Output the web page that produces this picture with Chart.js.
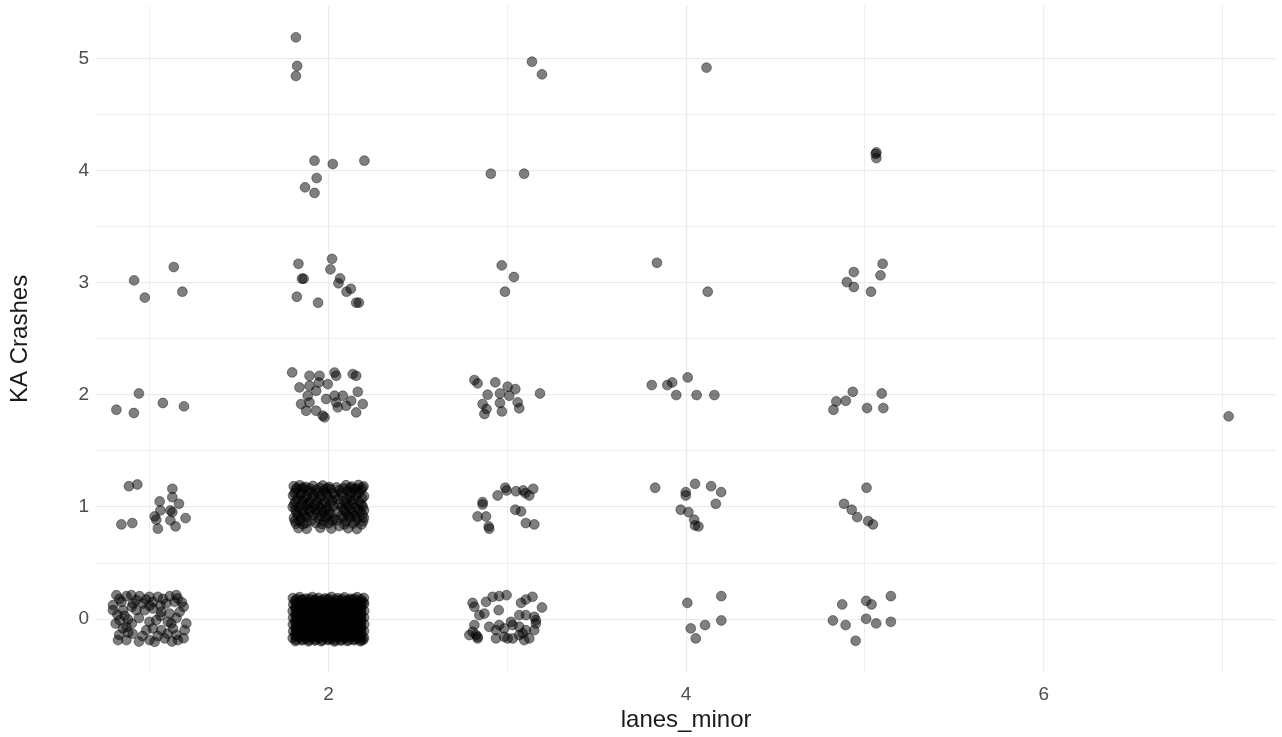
<!DOCTYPE html>
<html><head><meta charset="utf-8">
<script src="https://cdn.jsdelivr.net/npm/chart.js@4.4.1/dist/chart.umd.min.js"></script>
<style>html,body{margin:0;padding:0;background:#fff;}#wrap{width:1282px;height:737px;}</style>
</head><body><div id="wrap"><canvas id="c" width="1282" height="737"></canvas></div>
<script>
// Axis ticks and labels
const xTickValues = [1, 2, 3, 4, 5, 6, 7];
const xTickLabels = ['', '2', '', '4', '', '6', ''];
const yTickValues = [0, 0.5, 1, 1.5, 2, 2.5, 3, 3.5, 4, 4.5, 5];
const yTickLabels = ['0', '', '1', '', '2', '', '3', '', '4', '', '5'];
const xTitle = 'lanes_minor';
const yTitle = 'KA Crashes';

// Jittered points [lanes_minor, KA crashes]
const lanes1_ka0 = [[0.814,0.214],[0.870,0.205],[0.898,0.214],[0.944,0.205],[0.999,0.199],[1.046,0.199],[1.112,0.205],[1.149,0.214],[1.158,0.184],
 [0.795,0.125],[0.842,0.154],[0.907,0.139],[0.963,0.139],[1.018,0.154],[1.093,0.139],[1.140,0.154],
 [0.795,0.080],[0.851,0.080],[0.926,0.080],[0.972,0.080],[1.018,0.095],[1.065,0.065],[1.112,0.050],[1.168,0.065],
 [0.832,-0.009],[0.879,-0.003],[0.999,-0.024],[1.037,-0.009],[1.102,-0.024],[1.121,-0.039],[1.205,-0.039],
 [0.851,-0.083],[0.870,-0.068],[0.981,-0.098],[1.018,-0.083],[1.065,-0.098],[1.130,-0.083],[1.196,-0.098],
 [0.823,-0.187],[0.870,-0.187],[0.999,-0.187],[1.028,-0.202],[1.084,-0.172],[1.158,-0.187],
 [0.860,0.030],[0.940,0.010],[0.905,-0.130],[0.960,-0.150],[1.060,0.030],[1.150,-0.140],
 [0.830,0.180],[0.925,0.170],[0.980,0.175],[1.075,0.180],[1.180,0.150],[0.820,0.040],[0.900,0.110],[1.000,0.120],[1.060,0.120],[1.190,0.110],
 [0.810,-0.040],[0.900,-0.040],[1.150,0.010],[0.830,-0.140],[0.880,-0.120],[1.045,-0.150],[1.100,-0.130],[1.190,-0.170],[0.940,-0.200],[1.125,-0.200]];
const lanes1_ka1 = [[0.884,1.186],[0.931,1.201],[0.842,0.845],[0.903,0.857],[1.127,1.163],[1.127,1.088],[1.164,1.029],[1.056,1.050],[1.060,0.970],[1.116,0.970],[1.127,0.955],[1.028,0.916],[1.037,0.887],[1.046,0.807],[1.116,0.881],[1.145,0.827],[1.201,0.901]];
const lanes1_ka2 = [[0.814,1.868],[0.912,1.839],[0.940,2.013],[1.074,1.928],[1.192,1.898]];
const lanes1_ka3 = [[0.913,3.022],[0.973,2.868],[1.135,3.141],[1.183,2.921]];

const lanes2_ka0 = [
 [1.801,0.188],[1.838,0.196],[1.872,0.183],[1.909,0.197],[1.944,0.190],[1.981,0.185],[2.017,0.198],[2.052,0.187],[2.089,0.194],[2.124,0.182],[2.161,0.196],[2.198,0.189],
 [1.812,0.162],[1.849,0.171],[1.886,0.158],[1.921,0.167],[1.957,0.160],[1.993,0.173],[2.031,0.155],[2.066,0.166],[2.103,0.159],[2.139,0.170],[2.176,0.161],[2.196,0.152],
 [1.803,0.131],[1.840,0.138],[1.877,0.126],[1.913,0.135],[1.949,0.129],[1.986,0.141],[2.022,0.124],[2.058,0.136],[2.094,0.130],[2.131,0.139],[2.167,0.127],[2.199,0.134],
 [1.815,0.101],[1.851,0.108],[1.888,0.096],[1.924,0.104],[1.960,0.099],[1.997,0.111],[2.033,0.094],[2.069,0.106],[2.106,0.100],[2.142,0.109],[2.179,0.097],
 [1.800,0.072],[1.836,0.079],[1.873,0.066],[1.910,0.075],[1.946,0.069],[1.982,0.081],[2.019,0.064],[2.055,0.077],[2.091,0.070],[2.128,0.078],[2.164,0.067],[2.200,0.074],
 [1.817,0.041],[1.853,0.049],[1.890,0.036],[1.926,0.045],[1.962,0.039],[1.999,0.051],[2.035,0.034],[2.071,0.047],[2.108,0.040],[2.144,0.048],[2.181,0.037],
 [1.802,0.012],[1.839,0.019],[1.875,0.006],[1.912,0.015],[1.948,0.009],[1.985,0.021],[2.021,0.004],[2.057,0.017],[2.093,0.010],[2.130,0.018],[2.166,0.007],[2.199,0.014],
 [1.814,-0.019],[1.850,-0.011],[1.887,-0.024],[1.923,-0.015],[1.959,-0.021],[1.996,-0.009],[2.032,-0.026],[2.068,-0.013],[2.105,-0.020],[2.141,-0.012],[2.178,-0.023],
 [1.801,-0.048],[1.837,-0.041],[1.874,-0.054],[1.911,-0.045],[1.947,-0.051],[1.983,-0.039],[2.020,-0.056],[2.056,-0.043],[2.092,-0.050],[2.129,-0.042],[2.165,-0.053],[2.200,-0.046],
 [1.816,-0.079],[1.852,-0.071],[1.889,-0.084],[1.925,-0.075],[1.961,-0.081],[1.998,-0.069],[2.034,-0.086],[2.070,-0.073],[2.107,-0.080],[2.143,-0.072],[2.180,-0.083],
 [1.803,-0.108],[1.838,-0.101],[1.876,-0.114],[1.912,-0.105],[1.948,-0.111],[1.985,-0.099],[2.021,-0.116],[2.057,-0.103],[2.094,-0.110],[2.130,-0.102],[2.167,-0.113],[2.199,-0.106],
 [1.813,-0.139],[1.850,-0.131],[1.886,-0.144],[1.922,-0.135],[1.958,-0.141],[1.995,-0.129],[2.031,-0.146],[2.067,-0.133],[2.104,-0.140],[2.140,-0.132],[2.177,-0.143],
 [1.800,-0.168],[1.836,-0.161],[1.873,-0.174],[1.909,-0.165],[1.945,-0.171],[1.982,-0.159],[2.018,-0.176],[2.054,-0.163],[2.091,-0.170],[2.127,-0.162],[2.164,-0.173],[2.198,-0.166],
 [1.815,-0.196],[1.851,-0.189],[1.888,-0.198],[1.924,-0.191],[1.960,-0.197],[1.997,-0.186],[2.033,-0.199],[2.069,-0.192],[2.106,-0.195],[2.142,-0.188],[2.179,-0.197],[2.195,-0.184],
 [1.822,0.178],[1.857,0.174],[1.893,0.181],[1.929,0.176],[1.966,0.172],[2.001,0.180],[2.038,0.175],[2.073,0.179],[2.110,0.173],[2.146,0.182],[2.183,0.176],
 [1.819,0.146],[1.855,0.150],[1.891,0.143],[1.927,0.149],[1.963,0.145],[2.000,0.152],[2.036,0.141],[2.072,0.148],[2.109,0.144],[2.145,0.151],[2.181,0.142],
 [1.821,0.116],[1.858,0.121],[1.894,0.113],[1.930,0.119],[1.966,0.114],[2.003,0.122],[2.039,0.111],[2.075,0.118],[2.112,0.115],[2.148,0.120],[2.184,0.112],
 [1.818,0.086],[1.854,0.091],[1.890,0.083],[1.926,0.089],[1.963,0.084],[1.999,0.092],[2.035,0.081],[2.072,0.088],[2.108,0.085],[2.144,0.090],[2.181,0.082],
 [1.820,0.056],[1.857,0.061],[1.893,0.053],[1.929,0.059],[1.965,0.054],[2.002,0.062],[2.038,0.051],[2.074,0.058],[2.111,0.055],[2.147,0.060],[2.183,0.052],
 [1.819,0.026],[1.855,0.031],[1.891,0.023],[1.928,0.029],[1.964,0.024],[2.000,0.032],[2.037,0.021],[2.073,0.028],[2.109,0.025],[2.146,0.030],[2.182,0.022],
 [1.821,-0.004],[1.857,0.001],[1.894,-0.007],[1.930,-0.001],[1.966,-0.006],[2.003,0.002],[2.039,-0.009],[2.075,-0.002],[2.112,-0.005],[2.148,0.000],[2.184,-0.008],
 [1.818,-0.034],[1.854,-0.029],[1.891,-0.037],[1.927,-0.031],[1.963,-0.036],[2.000,-0.028],[2.036,-0.039],[2.072,-0.032],[2.109,-0.035],[2.145,-0.030],[2.181,-0.038],
 [1.820,-0.064],[1.856,-0.059],[1.893,-0.067],[1.929,-0.061],[1.965,-0.066],[2.002,-0.058],[2.038,-0.069],[2.074,-0.062],[2.111,-0.065],[2.147,-0.060],[2.183,-0.068],
 [1.819,-0.094],[1.855,-0.089],[1.892,-0.097],[1.928,-0.091],[1.964,-0.096],[2.001,-0.088],[2.037,-0.099],[2.073,-0.092],[2.110,-0.095],[2.146,-0.090],[2.182,-0.098],
 [1.821,-0.124],[1.857,-0.119],[1.894,-0.127],[1.930,-0.121],[1.966,-0.126],[2.003,-0.118],[2.039,-0.129],[2.075,-0.122],[2.112,-0.125],[2.148,-0.120],[2.184,-0.128],
 [1.818,-0.154],[1.854,-0.149],[1.891,-0.157],[1.927,-0.151],[1.963,-0.156],[2.000,-0.148],[2.036,-0.159],[2.072,-0.152],[2.109,-0.155],[2.145,-0.150],[2.181,-0.158],
 [1.820,-0.184],[1.856,-0.179],[1.893,-0.187],[1.929,-0.181],[1.965,-0.186],[2.002,-0.178],[2.038,-0.189],[2.074,-0.182],[2.111,-0.185],[2.147,-0.180],[2.183,-0.188]];
const lanes2_ka1 = [
 [1.806,1.186],[1.839,1.194],[1.872,1.180],[1.913,1.188],[1.968,1.192],[2.004,1.179],[2.098,1.195],[2.131,1.183],[2.168,1.197],[2.196,1.185],
 [1.818,1.151],[1.855,1.158],[1.889,1.145],[1.931,1.154],[1.975,1.149],[2.013,1.160],[2.062,1.152],[2.109,1.147],[2.145,1.159],[2.182,1.150],
 [1.802,1.102],[1.844,1.109],[1.878,1.096],[1.920,1.105],[1.957,1.099],[1.994,1.111],[2.036,1.094],[2.080,1.106],[2.119,1.100],[2.156,1.108],[2.199,1.097],
 [1.815,1.049],[1.852,1.057],[1.893,1.043],[1.936,1.052],[1.980,1.046],[2.021,1.058],[2.090,1.048],[2.127,1.055],[2.171,1.044],
 [1.800,1.001],[1.834,0.994],[1.871,1.008],[1.909,0.997],[1.946,1.004],[1.988,0.992],[2.027,1.006],[2.075,0.999],[2.112,1.007],[2.150,0.995],[2.192,1.003],
 [1.821,0.951],[1.860,0.944],[1.897,0.958],[1.938,0.947],[1.972,0.955],[2.010,0.942],[2.098,0.953],[2.136,0.946],[2.177,0.957],
 [1.807,0.902],[1.846,0.895],[1.880,0.908],[1.949,0.897],[1.985,0.905],[2.030,0.893],[2.084,0.901],[2.121,0.909],[2.160,0.896],[2.198,0.904],
 [1.818,0.851],[1.858,0.845],[1.929,0.857],[1.966,0.848],[2.002,0.855],[2.090,0.846],[2.138,0.853],[2.185,0.844],
 [1.832,0.812],[1.878,0.806],[1.955,0.815],[2.016,0.808],[2.110,0.811],[2.159,0.804],
 [1.822,1.170],[1.858,1.174],[1.895,1.166],[1.950,1.172],[1.990,1.168],[2.045,1.175],[2.083,1.169],[2.120,1.173],[2.157,1.166],[2.190,1.171],
 [1.810,1.126],[1.848,1.121],[1.904,1.129],[1.944,1.123],[1.985,1.130],[2.030,1.122],[2.070,1.128],[2.128,1.124],[2.170,1.127],
 [1.826,1.076],[1.866,1.071],[1.906,1.079],[1.950,1.073],[2.000,1.080],[2.050,1.072],[2.104,1.077],[2.146,1.071],[2.188,1.078],
 [1.808,1.026],[1.850,1.021],[1.886,1.029],[1.925,1.023],[1.965,1.030],[2.008,1.022],[2.060,1.027],[2.100,1.024],[2.140,1.030],[2.185,1.021],
 [1.815,0.976],[1.853,0.971],[1.890,0.979],[1.928,0.973],[1.962,0.980],[2.000,0.972],[2.088,0.977],[2.125,0.974],[2.165,0.980],[2.199,0.972],
 [1.829,0.926],[1.866,0.921],[1.912,0.929],[1.958,0.923],[1.998,0.930],[2.072,0.922],[2.110,0.927],[2.148,0.924],[2.190,0.929],
 [1.812,0.876],[1.840,0.871],[1.905,0.879],[1.975,0.873],[2.020,0.880],[2.100,0.872],[2.150,0.877],[2.194,0.874],
 [2.052,0.960],[2.045,0.880],[2.060,0.830],[1.875,0.860]];
const lanes2_ka2 = [[1.797,2.201],[1.894,2.171],[1.950,2.171],[2.034,2.200],[2.043,2.171],[2.136,2.186],[2.155,2.171],[1.838,2.067],[1.894,2.082],[1.946,2.111],[1.996,2.097],[1.884,1.993],[1.931,2.037],[1.847,1.919],[1.894,1.933],[1.987,1.964],[2.034,1.993],[2.080,1.993],[2.043,1.933],[2.127,1.948],[2.164,2.028],[2.192,1.919],[2.155,1.844],[1.931,1.859],[1.968,1.815],[1.978,1.800],[1.875,1.859],[2.052,1.889],[2.099,1.904]];
const lanes2_ka3 = [[1.832,3.170],[2.020,3.214],[2.011,3.120],[1.861,3.037],[1.852,3.037],[2.065,3.040],[2.056,2.996],[2.101,2.921],[2.125,2.947],[1.823,2.876],[1.942,2.823],[2.155,2.823],[2.170,2.823]];
const lanes2_ka4 = [[1.922,4.090],[2.024,4.060],[2.201,4.090],[1.934,3.935],[1.869,3.852],[1.922,3.802]];
const lanes2_ka5 = [[1.818,5.190],[1.825,4.935],[1.818,4.846]];

const lanes3_ka0 = [[2.806,0.145],[2.816,0.110],[2.881,0.154],[2.918,0.199],[2.955,0.205],[2.996,0.214],[2.952,0.080],[3.077,0.145],[3.104,0.175],[3.141,0.199],[3.194,0.104],[2.844,0.036],[2.872,0.050],[2.816,-0.053],[2.806,-0.113],[2.825,-0.142],[2.834,-0.157],[2.899,-0.068],[2.937,-0.098],[2.955,-0.053],[2.983,-0.083],[3.021,-0.024],[3.030,-0.053],[3.067,0.036],[3.104,0.036],[3.151,0.021],[3.160,-0.009],[3.067,-0.068],[3.104,-0.098],[3.151,-0.098],[3.160,-0.039],[2.937,-0.172],[2.983,-0.157],[3.002,-0.172],[3.030,-0.172],[3.067,-0.142],[3.086,-0.128],[3.095,-0.187],[3.123,-0.172],[2.788,-0.142],[2.834,-0.172]];
const lanes3_ka1 = [[2.989,1.172],[2.996,1.148],[3.049,1.141],[3.089,1.148],[3.101,1.124],[3.123,1.103],[3.145,1.163],[2.946,1.103],[2.862,1.044],[2.862,1.023],[2.834,0.916],[2.881,0.916],[2.896,0.827],[2.899,0.807],[3.045,0.976],[3.077,0.961],[3.104,0.857],[3.151,0.845]];
const lanes3_ka2 = [[2.816,2.133],[2.834,2.103],[2.933,2.112],[2.890,2.002],[2.959,2.013],[3.002,2.073],[3.045,2.052],[3.011,1.993],[3.183,2.013],[2.862,1.919],[2.959,1.928],[3.058,1.934],[3.067,1.881],[2.884,1.875],[2.872,1.830],[2.970,1.853]];
const lanes3_ka3 = [[2.969,3.156],[3.037,3.052],[2.987,2.921]];
const lanes3_ka4 = [[2.908,3.974],[3.094,3.974]];
const lanes3_ka5 = [[3.138,4.973],[3.194,4.860]];

const lanes4_ka0 = [[4.007,0.145],[4.197,0.205],[4.026,-0.083],[4.106,-0.053],[4.197,-0.012],[4.054,-0.172]];
const lanes4_ka1 = [[3.827,1.172],[3.998,1.133],[3.998,1.103],[4.050,1.207],[4.140,1.186],[4.196,1.133],[4.166,1.029],[3.970,0.976],[4.013,0.955],[4.045,0.887],[4.050,0.836],[4.069,0.827]];
const lanes4_ka2 = [[3.808,2.088],[3.895,2.088],[3.922,2.111],[4.009,2.156],[3.945,1.999],[4.059,1.999],[4.158,1.999]];
const lanes4_ka3 = [[3.837,3.179],[4.121,2.921]];
const lanes4_ka5 = [[4.114,4.920]];

const lanes5_ka0 = [[4.873,0.131],[5.007,0.163],[5.037,0.131],[5.145,0.205],[4.821,-0.012],[4.892,-0.053],[5.007,0.003],[5.063,-0.038],[5.145,-0.024],[4.948,-0.193]];
const lanes5_ka1 = [[5.009,1.172],[4.883,1.029],[4.926,0.976],[4.957,0.910],[5.018,0.875],[5.045,0.845]];
const lanes5_ka2 = [[4.824,1.868],[4.840,1.942],[4.893,1.948],[4.932,2.028],[5.012,1.883],[5.094,2.013],[5.103,1.883]];
const lanes5_ka3 = [[4.938,3.096],[4.899,3.007],[4.938,2.963],[5.034,2.921],[5.099,3.170],[5.087,3.067]];
const lanes5_ka4 = [[5.064,4.164],[5.064,4.113],[5.060,4.150]];

const lanes7_ka2 = [[7.034,1.809]];

const allGroups = [lanes1_ka0, lanes1_ka1, lanes1_ka2, lanes1_ka3,
  lanes2_ka0, lanes2_ka1, lanes2_ka2, lanes2_ka3, lanes2_ka4, lanes2_ka5,
  lanes3_ka0, lanes3_ka1, lanes3_ka2, lanes3_ka3, lanes3_ka4, lanes3_ka5,
  lanes4_ka0, lanes4_ka1, lanes4_ka2, lanes4_ka3, lanes4_ka5,
  lanes5_ka0, lanes5_ka1, lanes5_ka2, lanes5_ka3, lanes5_ka4,
  lanes7_ka2];
const points = [];
allGroups.forEach(g => g.forEach(p => points.push({x: p[0], y: p[1]})));

const FONT = "'Liberation Sans', Arial, 'DejaVu Sans', sans-serif";
const gridColor = '#ebebeb';

new Chart(document.getElementById('c'), {
  type: 'scatter',
  data: { datasets: [{
    data: points,
    backgroundColor: 'rgba(0,0,0,0.5)',
    borderColor: 'rgba(0,0,0,0.45)',
    borderWidth: 0.9,
    pointRadius: 4.9,
    pointHoverRadius: 4.9
  }]},
  options: {
    responsive: false,
    animation: false,
    devicePixelRatio: 1,
    events: [],
    layout: { padding: { top: 4, right: 5, left: 0, bottom: 0 } },
    plugins: { legend: { display: false }, tooltip: { enabled: false } },
    scales: {
      x: {
        type: 'linear', min: 0.7, max: 7.3,
        afterBuildTicks: s => { s.ticks = xTickValues.map(v => ({ value: v })); },
        afterFit: s => { s.height = 65; s.paddingLeft = 0; s.paddingRight = 0; },
        border: { display: false },
        grid: { color: gridColor, lineWidth: c => (c.index % 2 === 1 ? 1.2 : 0.8), drawTicks: false },
        ticks: { autoSkip: false, maxRotation: 0, padding: 11, color: '#4d4d4d',
          font: { family: FONT, size: 19 },
          callback: (v, i) => xTickLabels[i] },
        title: { display: true, text: xTitle, color: '#1a1a1a',
          font: { family: FONT, size: 24 }, padding: { top: 0, bottom: 2 } }
      },
      y: {
        type: 'linear', min: -0.4715, max: 5.4715,
        afterBuildTicks: s => { s.ticks = yTickValues.map(v => ({ value: v })); },
        afterFit: s => { s.width = 96; s.paddingTop = 0; s.paddingBottom = 0; },
        border: { display: false },
        grid: { color: gridColor, lineWidth: c => (c.index % 2 === 0 ? 1.2 : 0.8), drawTicks: false },
        ticks: { autoSkip: false, padding: 7, color: '#4d4d4d',
          font: { family: FONT, size: 19 },
          callback: (v, i) => yTickLabels[i] },
        title: { display: true, text: yTitle, color: '#1a1a1a',
          font: { family: FONT, size: 24 }, padding: { top: 6, bottom: 0 } }
      }
    }
  }
});
</script></body></html>
